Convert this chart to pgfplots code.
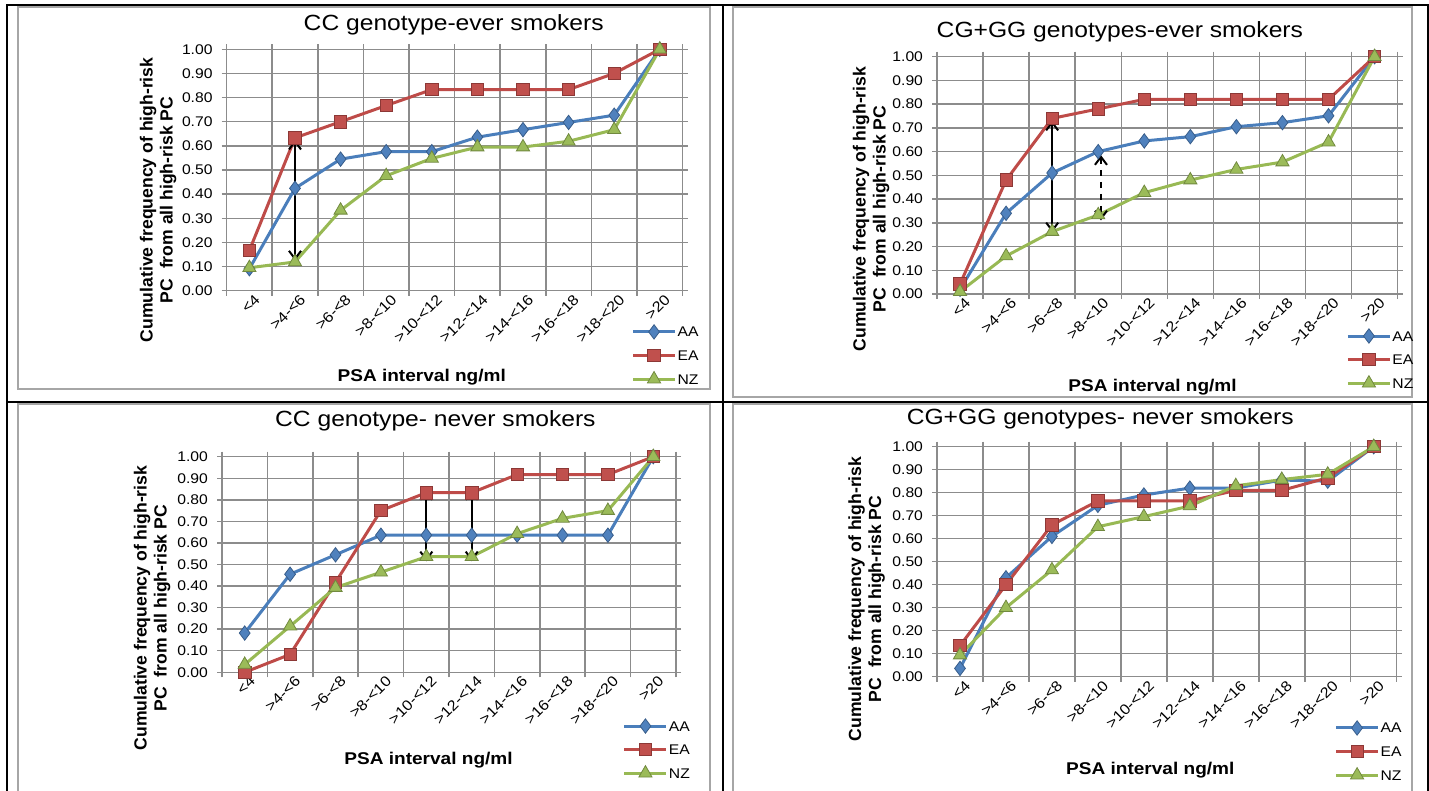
\documentclass[border=0pt]{standalone}
\usepackage{fontspec}
\setmainfont[FakeStretch=1.12]{Liberation Sans}
\newfontfamily\ylabfont{Liberation Sans}
\usepackage{pgfplots}
\pgfplotsset{compat=1.18}
\usetikzlibrary{arrows.meta}

\definecolor{aaline}{HTML}{4A7EBB}
\definecolor{aafill}{HTML}{4F81BD}
\definecolor{aadraw}{HTML}{385D8A}
\definecolor{ealine}{HTML}{BE4B48}
\definecolor{eafill}{HTML}{C0504D}
\definecolor{eadraw}{HTML}{8C3836}
\definecolor{nzline}{HTML}{98B954}
\definecolor{nzfill}{HTML}{9BBB59}
\definecolor{nzdraw}{HTML}{71893F}
\definecolor{gridc}{HTML}{8C8C8C}
\definecolor{framec}{HTML}{A6A6A6}

\pgfplotsset{
  psa/.style={
    scale only axis, anchor=south west, clip=false,
    xmin=-0.5, xmax=9.5, ymin=0, ymax=1,
    xtick={-0.5,0.5,...,9.5}, xticklabels={},
    extra x ticks={0,1,2,3,4,5,6,7,8,9},
    extra x tick labels={{<4},{>4-<6},{>6-<8},{>8-<10},{>10-<12},{>12-<14},{>14-<16},{>16-<18},{>18-<20},{>20}},
    extra x tick style={major tick length=0pt, grid=none},
    ytick={0,0.1,0.2,0.3,0.4,0.5,0.6,0.7,0.8,0.9,1},
    yticklabel style={/pgf/number format/fixed, /pgf/number format/fixed zerofill,
      /pgf/number format/precision=2, /pgf/number format/assume math mode=true,
      font=\fontsize{7}{8}\selectfont, xshift=-1pt},
    xticklabel style={font=\fontsize{7.3}{8}\selectfont, rotate=45, anchor=east, xshift=4pt, yshift=-5pt},
    xmajorgrids, ymajorgrids,
    grid style={gridc, line width=0.75pt},
    axis line style={gridc, line width=0.75pt},
    tick style={gridc, line width=0.75pt},
    tick align=outside, major tick length=2.5pt,
    xlabel={PSA interval ng/ml},
    xlabel style={anchor=center, font=\bfseries\fontsize{8.5}{10}\selectfont},
    ylabel={Cumulative frequency of high-risk\\PC\ \ from all high-risk PC},
    ylabel style={anchor=center, align=center, font=\ylabfont\bfseries\fontsize{8.8}{10}\selectfont},
    legend cell align=left,
    legend style={draw=none, fill=none, anchor=west, font=\fontsize{7}{8}\selectfont,
      row sep=5pt, nodes={inner sep=0.5pt, text height=5pt, text depth=0pt}},
    legend image code/.code={\draw[mark repeat=2, mark phase=2] plot coordinates {(0pt,0pt) (10.5pt,0pt) (21pt,0pt)};},
  },
  aa/.style={color=aaline, line width=1.5pt, mark=diamond*, mark size=3.6pt,
    mark options={fill=aafill, draw=aadraw, line width=0.4pt}},
  ea/.style={color=ealine, line width=1.5pt, mark=square*, mark size=3.1pt,
    mark options={fill=eafill, draw=eadraw, line width=0.4pt}},
  nz/.style={color=nzline, line width=1.5pt, mark=triangle*, mark size=3.8pt,
    mark options={fill=nzfill, draw=nzdraw, line width=0.4pt}},
}
\tikzset{
  arr/.style={{Straight Barb[length=4pt,width=6pt]}-{Straight Barb[length=4pt,width=6pt]}, line width=1pt, black},
  ttl/.style={anchor=center, inner sep=0pt, font=\fontsize{11}{13}\selectfont},
}

\begin{document}
\begin{tikzpicture}
\useasboundingbox (0,0) rectangle (714.5pt,395.5pt);
% chart frames
\draw[framec, line width=0.8pt] (9pt,392pt) rectangle (355pt,201pt);
\draw[framec, line width=0.8pt] (366.5pt,392pt) rectangle (706pt,197pt);
\draw[framec, line width=0.8pt] (9pt,193.5pt) rectangle (355pt,-4.5pt);
\draw[framec, line width=0.8pt] (366.5pt,193.5pt) rectangle (706pt,-4.5pt);
% table rules
\draw[black, line width=0.75pt] (3.5pt,-5pt) rectangle (714pt,393pt);
\draw[black, line width=0.75pt] (361.5pt,-5pt) -- (361.5pt,393pt);
\draw[black, line width=0.75pt] (3.5pt,194.5pt) -- (714pt,194.5pt);

% top left
\begin{axis}[psa, at={(113.3pt,250.15pt)}, width=228pt, height=120.7pt,
  xlabel style={at={(axis description cs:0.428,-0.357)}},
  ylabel style={at={(axis description cs:-0.150,0.376)}},
  legend style={at={(0.874,-0.266)}}]
\addplot[aa] coordinates {(0,0.091)(1,0.424)(2,0.545)(3,0.576)(4,0.576)(5,0.636)(6,0.667)(7,0.697)(8,0.727)(9,1)};
\addplot[ea] coordinates {(0,0.167)(1,0.633)(2,0.700)(3,0.767)(4,0.833)(5,0.833)(6,0.833)(7,0.833)(8,0.900)(9,1)};
\addplot[nz] coordinates {(0,0.095)(1,0.119)(2,0.333)(3,0.476)(4,0.548)(5,0.595)(6,0.595)(7,0.619)(8,0.667)(9,1)};
\legend{AA,EA,NZ}
\draw[arr] (axis cs:1,0.625) -- (axis cs:1,0.125);
\node[ttl] at (rel axis cs:0.498,1.10) {CC genotype-ever  smokers};
\end{axis}

% top right
\begin{axis}[psa, at={(468.5pt,248.5pt)}, width=230.3pt, height=118.65pt,
  xlabel style={at={(axis description cs:0.468,-0.392)}},
  ylabel style={at={(axis description cs:-0.143,0.358)}},
  legend style={at={(0.875,-0.274)}}]
\addplot[aa] coordinates {(0,0.02)(1,0.34)(2,0.51)(3,0.60)(4,0.645)(5,0.663)(6,0.705)(7,0.722)(8,0.751)(9,1)};
\addplot[ea] coordinates {(0,0.042)(1,0.48)(2,0.74)(3,0.78)(4,0.82)(5,0.82)(6,0.82)(7,0.82)(8,0.82)(9,1)};
\addplot[nz] coordinates {(0,0.01)(1,0.16)(2,0.263)(3,0.333)(4,0.427)(5,0.48)(6,0.525)(7,0.556)(8,0.64)(9,1)};
\legend{AA,EA,NZ}
\draw[arr] (axis cs:2,0.73) -- (axis cs:2,0.26);
\draw[arr, dashed] (axis cs:3.06,0.585) -- (axis cs:3.06,0.31);
\node[ttl] at (rel axis cs:0.397,1.104) {CG+GG genotypes-ever smokers};
\end{axis}

% bottom left
\begin{axis}[psa, at={(111pt,59.35pt)}, width=227pt, height=107.8pt,
  xlabel style={at={(axis description cs:0.455,-0.407)}},
  ylabel style={at={(axis description cs:-0.154,0.298)}},
  legend style={at={(0.869,-0.356)}}]
\addplot[aa] coordinates {(0,0.182)(1,0.455)(2,0.545)(3,0.636)(4,0.636)(5,0.636)(6,0.636)(7,0.636)(8,0.636)(9,1)};
\addplot[ea] coordinates {(0,0)(1,0.083)(2,0.417)(3,0.75)(4,0.833)(5,0.833)(6,0.917)(7,0.917)(8,0.917)(9,1)};
\addplot[nz] coordinates {(0,0.036)(1,0.214)(2,0.393)(3,0.464)(4,0.536)(5,0.536)(6,0.643)(7,0.714)(8,0.75)(9,1)};
\legend{AA,EA,NZ}
\draw[arr] (axis cs:4,0.845) -- (axis cs:4,0.515);
\draw[arr] (axis cs:5,0.845) -- (axis cs:5,0.515);
\node[ttl] at (rel axis cs:0.470,1.166) {CC genotype- never smokers};
\end{axis}

% bottom right
\begin{axis}[psa, at={(468.5pt,57.15pt)}, width=229.85pt, height=115pt,
  xlabel style={at={(axis description cs:0.464,-0.406)}},
  ylabel style={at={(axis description cs:-0.153,0.338)}},
  legend style={at={(0.851,-0.323)}}]
\addplot[aa] coordinates {(0,0.036)(1,0.43)(2,0.61)(3,0.745)(4,0.79)(5,0.82)(6,0.82)(7,0.855)(8,0.85)(9,1)};
\addplot[ea] coordinates {(0,0.135)(1,0.40)(2,0.66)(3,0.764)(4,0.764)(5,0.764)(6,0.81)(7,0.81)(8,0.865)(9,1)};
\addplot[nz] coordinates {(0,0.094)(1,0.30)(2,0.464)(3,0.652)(4,0.696)(5,0.742)(6,0.83)(7,0.857)(8,0.88)(9,1)};
\legend{AA,EA,NZ}
\node[ttl] at (rel axis cs:0.355,1.12) {CG+GG genotypes- never smokers};
\end{axis}
\end{tikzpicture}
\end{document}
